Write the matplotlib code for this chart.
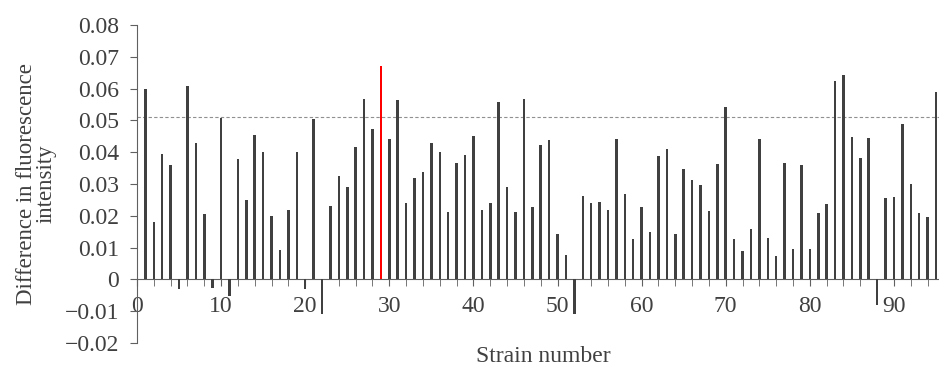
import matplotlib
matplotlib.use('Agg')
import matplotlib.pyplot as plt
import numpy as np
from matplotlib.ticker import MultipleLocator

plt.rcParams['font.family'] = ['Liberation Serif', 'DejaVu Serif']

# strain numbers 1..95 and their fluorescence differences
strains = list(range(1, 96))
values = [
    0.0600, 0.0180, 0.0394, 0.0360, -0.0031, 0.0607, 0.0429, 0.0205, -0.0026, 0.0507,
    -0.0052, 0.0380, 0.0249, 0.0453, 0.0400, 0.0198, 0.0094, 0.0217, 0.0400, -0.0030,
    0.0506, -0.0108, 0.0231, 0.0324, 0.0292, 0.0415, 0.0567, 0.0473, 0.0671, 0.0441,
    0.0563, 0.0240, 0.0318, 0.0339, 0.0429, 0.0400, 0.0211, 0.0367, 0.0391, 0.0452,
    0.0219, 0.0240, 0.0557, 0.0292, 0.0211, 0.0567, 0.0228, 0.0424, 0.0438, 0.0144,
    0.0076, -0.0110, 0.0262, 0.0239, 0.0242, 0.0219, 0.0441, 0.0270, 0.0126, 0.0228,
    0.0149, 0.0388, 0.0411, 0.0143, 0.0346, 0.0313, 0.0298, 0.0216, 0.0362, 0.0542,
    0.0128, 0.0090, 0.0157, 0.0441, 0.0131, 0.0072, 0.0365, 0.0097, 0.0359, 0.0097,
    0.0208, 0.0236, 0.0624, 0.0644, 0.0449, 0.0382, 0.0444, -0.0079, 0.0256, 0.0259,
    0.0490, 0.0301, 0.0208, 0.0196, 0.0590,
]
highlight = 29
threshold = 0.0512

y_ticks = [-0.02, -0.01, 0, 0.01, 0.02, 0.03, 0.04, 0.05, 0.06, 0.07, 0.08]
y_tick_labels = ['\u22120.02', '\u22120.01', '0', '0.01', '0.02', '0.03',
                 '0.04', '0.05', '0.06', '0.07', '0.08']
x_ticks = [0, 10, 20, 30, 40, 50, 60, 70, 80, 90]

fig = plt.figure(figsize=(9.39, 3.69), dpi=100)
ax = fig.add_axes([0.1459, 0.0705, 0.8536, 0.8617])

colors = ['#ff0000' if s == highlight else '#404040' for s in strains]
ax.bar(strains, values, width=0.3, color=colors, zorder=3)

ax.axhline(threshold, color='#909090', lw=0.8, ls=(0, (3, 2)), zorder=1)

ax.set_xlim(0, 95.3)
ax.set_ylim(-0.02, 0.08)

ax.spines['top'].set_visible(False)
ax.spines['right'].set_visible(False)
ax.spines['bottom'].set_position(('data', 0))
ax.spines['left'].set_color('#606060')
ax.spines['bottom'].set_color('#606060')

ax.set_yticks(y_ticks)
ax.set_yticklabels(y_tick_labels)
ax.set_xticks(x_ticks)
ax.set_xticklabels([str(v) for v in x_ticks])
ax.xaxis.set_minor_locator(MultipleLocator(2))

ax.tick_params(axis='y', direction='out', length=5, color='#606060',
               labelsize=17, labelcolor='#404040', pad=8)
ax.tick_params(axis='x', which='both', direction='out', length=5,
               color='#606060')
ax.tick_params(axis='x', which='major', labelsize=17, labelcolor='#404040',
               pad=7)

ax.set_ylabel('Difference in fluorescence\nintensity', fontsize=16.5,
              color='#404040', linespacing=0.9)
ax.yaxis.set_label_coords(-0.10, 0.5)

fig.text(543 / 939, 1 - 357 / 369, 'Strain number', fontsize=17,
         color='#404040', ha='center', va='center')

fig.savefig('out.png', dpi=100)
